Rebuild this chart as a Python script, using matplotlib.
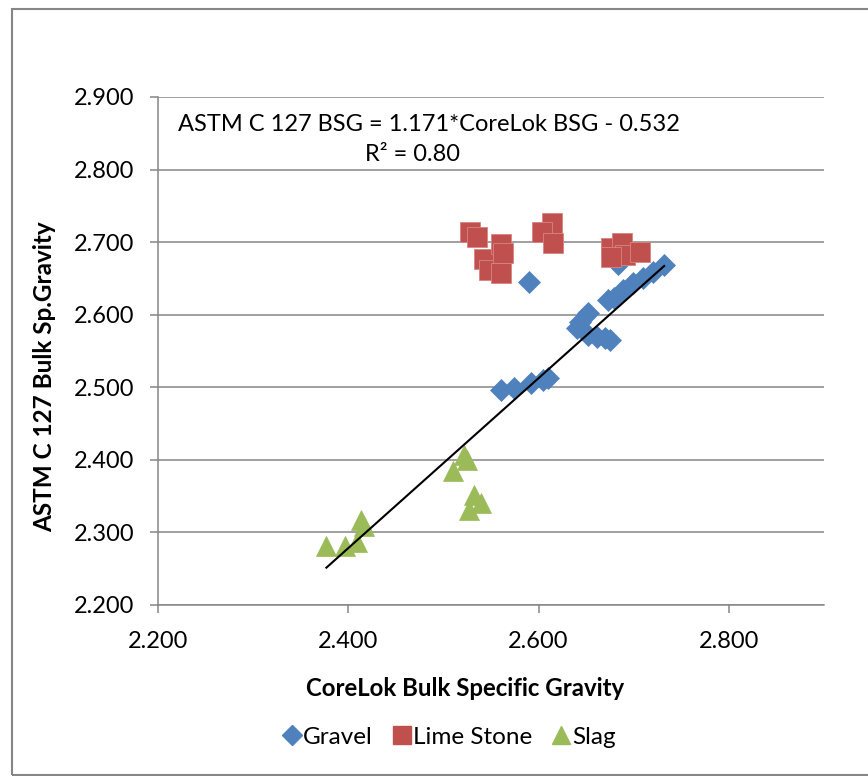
import matplotlib
matplotlib.use("Agg")
import matplotlib.pyplot as plt
from matplotlib.patches import Rectangle
from matplotlib.lines import Line2D


GRAVEL_X = [2.732, 2.720, 2.710, 2.699, 2.689, 2.684, 2.679, 2.673, 2.652, 2.644, 2.640,
            2.652, 2.661, 2.670, 2.675, 2.610, 2.605, 2.592, 2.574, 2.561, 2.590]
GRAVEL_Y = [2.669, 2.659, 2.651, 2.644, 2.634, 2.670, 2.623, 2.620, 2.602, 2.590, 2.582,
            2.572, 2.569, 2.568, 2.565, 2.513, 2.510, 2.506, 2.499, 2.496, 2.645]

LIME_X = [2.528, 2.535, 2.543, 2.548, 2.561, 2.563, 2.561, 2.614, 2.604, 2.615,
          2.676, 2.688, 2.691, 2.707, 2.676]
LIME_Y = [2.714, 2.707, 2.677, 2.662, 2.697, 2.685, 2.657, 2.726, 2.714, 2.699,
          2.692, 2.699, 2.682, 2.686, 2.680]

SLAG_X = [2.377, 2.397, 2.409, 2.413, 2.416, 2.510, 2.522, 2.525, 2.527, 2.532, 2.539]
SLAG_Y = [2.281, 2.281, 2.287, 2.317, 2.309, 2.385, 2.407, 2.400, 2.331, 2.352, 2.341]

SLOPE = 1.171
INTERCEPT = -0.532
R2 = 0.80

X_TICKS = [2.2, 2.4, 2.6, 2.8]
Y_TICKS = [2.2, 2.3, 2.4, 2.5, 2.6, 2.7, 2.8, 2.9]

BLUE = "#4F81BD"
RED = "#C0504D"
GREEN = "#9BBB59"
GRAY = "#868686"

plt.rcParams["font.family"] = ["Lato", "DejaVu Sans"]

fig = plt.figure(figsize=(8.68, 7.76), dpi=100)
ax = fig.add_axes([158 / 868, 1 - 605 / 776, (824 - 158) / 868, (605 - 97) / 776])

ax.plot(GRAVEL_X, GRAVEL_Y, "D", ms=11, color=BLUE, mec=BLUE, mew=0.5, zorder=3)
ax.plot(LIME_X, LIME_Y, "s", ms=14.5, color=RED, mec="#D98583", mew=0.6, zorder=4)
ax.plot(SLAG_X, SLAG_Y, "^", ms=14, color=GREEN, mec=GREEN, mew=0.5, zorder=5)

all_x = GRAVEL_X + LIME_X + SLAG_X
x0, x1 = min(all_x), max(all_x)
ax.plot([x0, x1], [SLOPE * x0 + INTERCEPT, SLOPE * x1 + INTERCEPT],
        color="black", lw=1.5, zorder=6)

ax.set_xlim(2.2, 2.9)
ax.set_ylim(2.2, 2.9)
ax.set_xticks(X_TICKS)
ax.set_yticks(Y_TICKS)
ax.set_xticklabels([f"{v:.3f}" for v in X_TICKS])
ax.set_yticklabels([f"{v:.3f}" for v in Y_TICKS])
ax.tick_params(axis="both", direction="out", length=6, width=1.1, color=GRAY,
               labelsize=17)
ax.tick_params(axis="x", pad=13)
ax.tick_params(axis="y", pad=11)
ax.yaxis.grid(True, color=GRAY, lw=1.1)
ax.set_axisbelow(True)
for side in ["top", "right"]:
    ax.spines[side].set_visible(False)
for side in ["left", "bottom"]:
    ax.spines[side].set_color(GRAY)
    ax.spines[side].set_linewidth(1.1)

ax.text(2.221, 2.862, f"ASTM C 127 BSG = {SLOPE:.3f}*CoreLok BSG - {abs(INTERCEPT):.3f}",
        fontsize=17, va="center", ha="left")
ax.text(2.467, 2.821, f"R² = {R2:.2f}", fontsize=17, va="center", ha="center")

fig.text(465 / 868, 1 - 689 / 776, "CoreLok Bulk Specific Gravity",
         fontsize=17.3, fontweight="bold", ha="center", va="center")
fig.text(45 / 868, 1 - 377 / 776, "ASTM C 127 Bulk Sp.Gravity",
         fontsize=17.5, fontweight="bold", ha="center", va="center", rotation=90)

handles = [
    Line2D([], [], ls="", marker="D", ms=10.5, color=BLUE, label="Gravel"),
    Line2D([], [], ls="", marker="s", ms=13.5, color=RED, label="Lime Stone"),
    Line2D([], [], ls="", marker="^", ms=13.5, color=GREEN, label="Slag"),
]
fig.legend(handles=handles, loc="center", bbox_to_anchor=(449 / 868, 1 - 737 / 776),
           ncol=3, frameon=False, fontsize=17.5, handlelength=0.8, handletextpad=0.05,
           columnspacing=0.8)

fig.patches.append(Rectangle((12 / 868, 1 - 775 / 776), 1.0, (775 - 9) / 776,
                             transform=fig.transFigure, fill=False, ec=GRAY, lw=1.5))

fig.savefig("out.png", dpi=100)
